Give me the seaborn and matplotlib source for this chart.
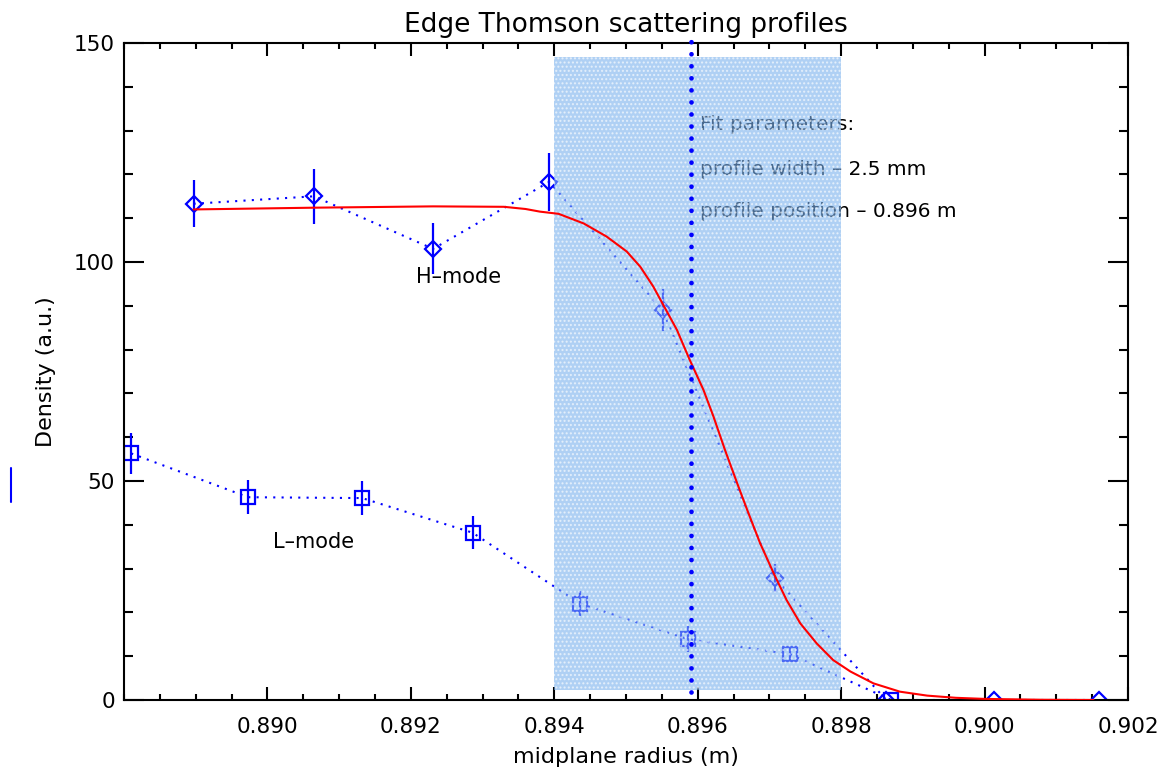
import numpy as np
import pandas as pd
import matplotlib
matplotlib.use("Agg")
import matplotlib.pyplot as plt
import seaborn as sns
from matplotlib.ticker import MultipleLocator, FormatStrFormatter
from matplotlib.lines import Line2D

# ---------------- data ----------------
h_r = [0.88897, 0.89065, 0.89231, 0.89393, 0.89551, 0.89708, 0.89863, 0.90013, 0.90160]
h_n = [113.3, 115.0, 103.0, 118.3, 89.0, 27.8, 0.0, 0.0, 0.0]
h_err = [5.4, 6.3, 5.8, 6.7, 4.75, 3.2, 0.0, 0.0, 0.0]

l_r = [0.88810, 0.88973, 0.89132, 0.89286, 0.89436, 0.89586, 0.89728, 0.89870]
l_n = [56.3, 46.3, 46.1, 38.2, 22.0, 13.9, 10.5, 0.0]
l_err = [4.6, 3.9, 3.95, 3.7, 2.8, 3.0, 1.9, 0.0]

fit_r = [0.88897, 0.89065, 0.89231, 0.89330, 0.89360, 0.89380, 0.89406, 0.89441,
         0.89473, 0.89501, 0.89520, 0.89538, 0.89552, 0.89571, 0.89589, 0.89608,
         0.89622, 0.89638, 0.89655, 0.89669, 0.89687, 0.89706, 0.89724, 0.89743,
         0.89766, 0.89789, 0.89813, 0.89845, 0.89882, 0.89920, 0.89960, 0.90000,
         0.90080, 0.90152]
fit_n = [112.0, 112.4, 112.7, 112.6, 112.1, 111.5, 111.0, 108.8,
         105.8, 102.4, 98.9, 94.4, 90.2, 84.5, 77.6, 70.8,
         64.7, 57.1, 49.5, 43.4, 35.8, 28.9, 22.8, 17.5,
         12.9, 9.1, 6.5, 3.8, 1.9, 1.0, 0.5, 0.25,
         0.05, 0.0]

band_r = [0.894, 0.898]
band_n = [2.3, 146.7]
fit_position = 0.8959
pos_line_n = [1.8, 151.5]

x_ticks = [0.890, 0.892, 0.894, 0.896, 0.898, 0.900, 0.902]
y_ticks = [0, 50, 100, 150]

labels_text = ["H\u2013mode", "L\u2013mode"]
labels_r = [0.89267, 0.89064]
labels_n = [96.6, 36.1]

fit_lines = ["Fit parameters:", "profile width \u2013 2.5 mm", "profile position \u2013 0.896 m"]
fit_text_r = 0.89603
fit_text_n = [131.3, 121.2, 111.5]

xlim = (0.888, 0.902)
ylim = (0, 150)

df_h = pd.DataFrame({"r": h_r, "n": h_n, "err": h_err})
df_l = pd.DataFrame({"r": l_r, "n": l_n, "err": l_err})
df_fit = pd.DataFrame({"r": fit_r, "n": fit_n})

# ---------------- style ----------------
sns.set_style("ticks")
plt.rcParams["font.family"] = ["DejaVu Sans"]
for k in ["text.color", "axes.labelcolor", "xtick.color", "ytick.color", "axes.edgecolor"]:
    plt.rcParams[k] = "black"

BLUE = "#0000ff"
RED = "#ff0000"

fig = plt.figure(figsize=(11.66, 7.68), dpi=100)
fig.subplots_adjust(left=124/1166, right=1128/1166, bottom=68/768, top=725/768)
ax = fig.add_subplot(111)

dot_style = (0, (1, 3.0))

# H-mode
mh = df_h["err"] > 0
ax.errorbar(df_h["r"][mh], df_h["n"][mh], yerr=df_h["err"][mh], fmt="none",
            ecolor=BLUE, elinewidth=1.6, capsize=0, zorder=2)
sns.lineplot(data=df_h, x="r", y="n", ax=ax, sort=False, estimator=None,
             color=BLUE, lw=1.5, linestyle=dot_style, marker="D", markersize=8.3,
             markerfacecolor="none", markeredgecolor=BLUE, markeredgewidth=1.6,
             zorder=2)
# L-mode
ml = df_l["err"] > 0
ax.errorbar(df_l["r"][ml], df_l["n"][ml], yerr=df_l["err"][ml], fmt="none",
            ecolor=BLUE, elinewidth=1.6, capsize=0, zorder=2)
sns.lineplot(data=df_l, x="r", y="n", ax=ax, sort=False, estimator=None,
             color=BLUE, lw=1.5, linestyle=dot_style, marker="s", markersize=10,
             markerfacecolor="none", markeredgecolor=BLUE, markeredgewidth=1.6,
             zorder=2)

# text labels
for t, xr, yn in zip(labels_text, labels_r, labels_n):
    ax.text(xr, yn, t, ha="center", va="center", fontsize=15, color="black", zorder=2)
for t, yn in zip(fit_lines, fit_text_n):
    ax.text(fit_text_r, yn, t, ha="left", va="center", fontsize=14.5, color="black", zorder=2)

# shaded band
ax.fill_between(band_r, band_n[0], band_n[1], facecolor="#7ab1ee", alpha=0.6,
                edgecolor="white", linewidth=0, hatch="....", zorder=3)

# fit curve
sns.lineplot(data=df_fit, x="r", y="n", ax=ax, sort=False, estimator=None,
             color=RED, lw=1.5, zorder=4)

# fit position line
ax.plot([fit_position, fit_position], pos_line_n, color=BLUE, lw=3.4,
        linestyle=(0, (0.01, 2.54)), dash_capstyle="round", zorder=5,
        clip_on=False)

# axes
ax.set_xlim(*xlim)
ax.set_ylim(*ylim)
ax.set_xticks(x_ticks)
ax.set_yticks(y_ticks)
ax.xaxis.set_minor_locator(MultipleLocator(0.0005))
ax.xaxis.set_major_formatter(FormatStrFormatter("%.3f"))
ax.yaxis.set_minor_locator(MultipleLocator(10))
ax.yaxis.set_major_formatter(FormatStrFormatter("%d"))
ax.tick_params(axis="x", which="major", direction="in", length=9.1, width=1.5,
               top=True, bottom=True, labelsize=15.5, pad=12, colors="black")
ax.tick_params(axis="x", which="minor", direction="in", length=4.5, width=1.5,
               top=True, bottom=True, colors="black")
ax.tick_params(axis="y", which="major", direction="in", length=14.4, width=1.5,
               left=True, right=True, labelsize=15.5, pad=6.5, colors="black")
ax.tick_params(axis="y", which="minor", direction="in", length=6.8, width=1.5,
               left=True, right=True, colors="black")
ax.set_xlim(*xlim)
for s in ax.spines.values():
    s.set_visible(True)
    s.set_color("black")
    s.set_linewidth(1.5)

ax.set_xlabel("midplane radius (m)", fontsize=16, color="black")
ax.set_ylabel("Density (a.u.)", fontsize=16, color="black")
ax.xaxis.set_label_coords(0.5, -0.071)
ax.yaxis.set_label_coords(-0.068, 0.5)
ax.set_title("Edge Thomson scattering profiles", fontsize=19, pad=8, color="black")

# stray tick mark at the left margin
stub_x = [11/1166, 11/1166]
stub_y = [1 - 468/768, 1 - 502/768]
fig.add_artist(Line2D(stub_x, stub_y, transform=fig.transFigure, color=BLUE, lw=1.5))

fig.savefig("out.png", dpi=100)
